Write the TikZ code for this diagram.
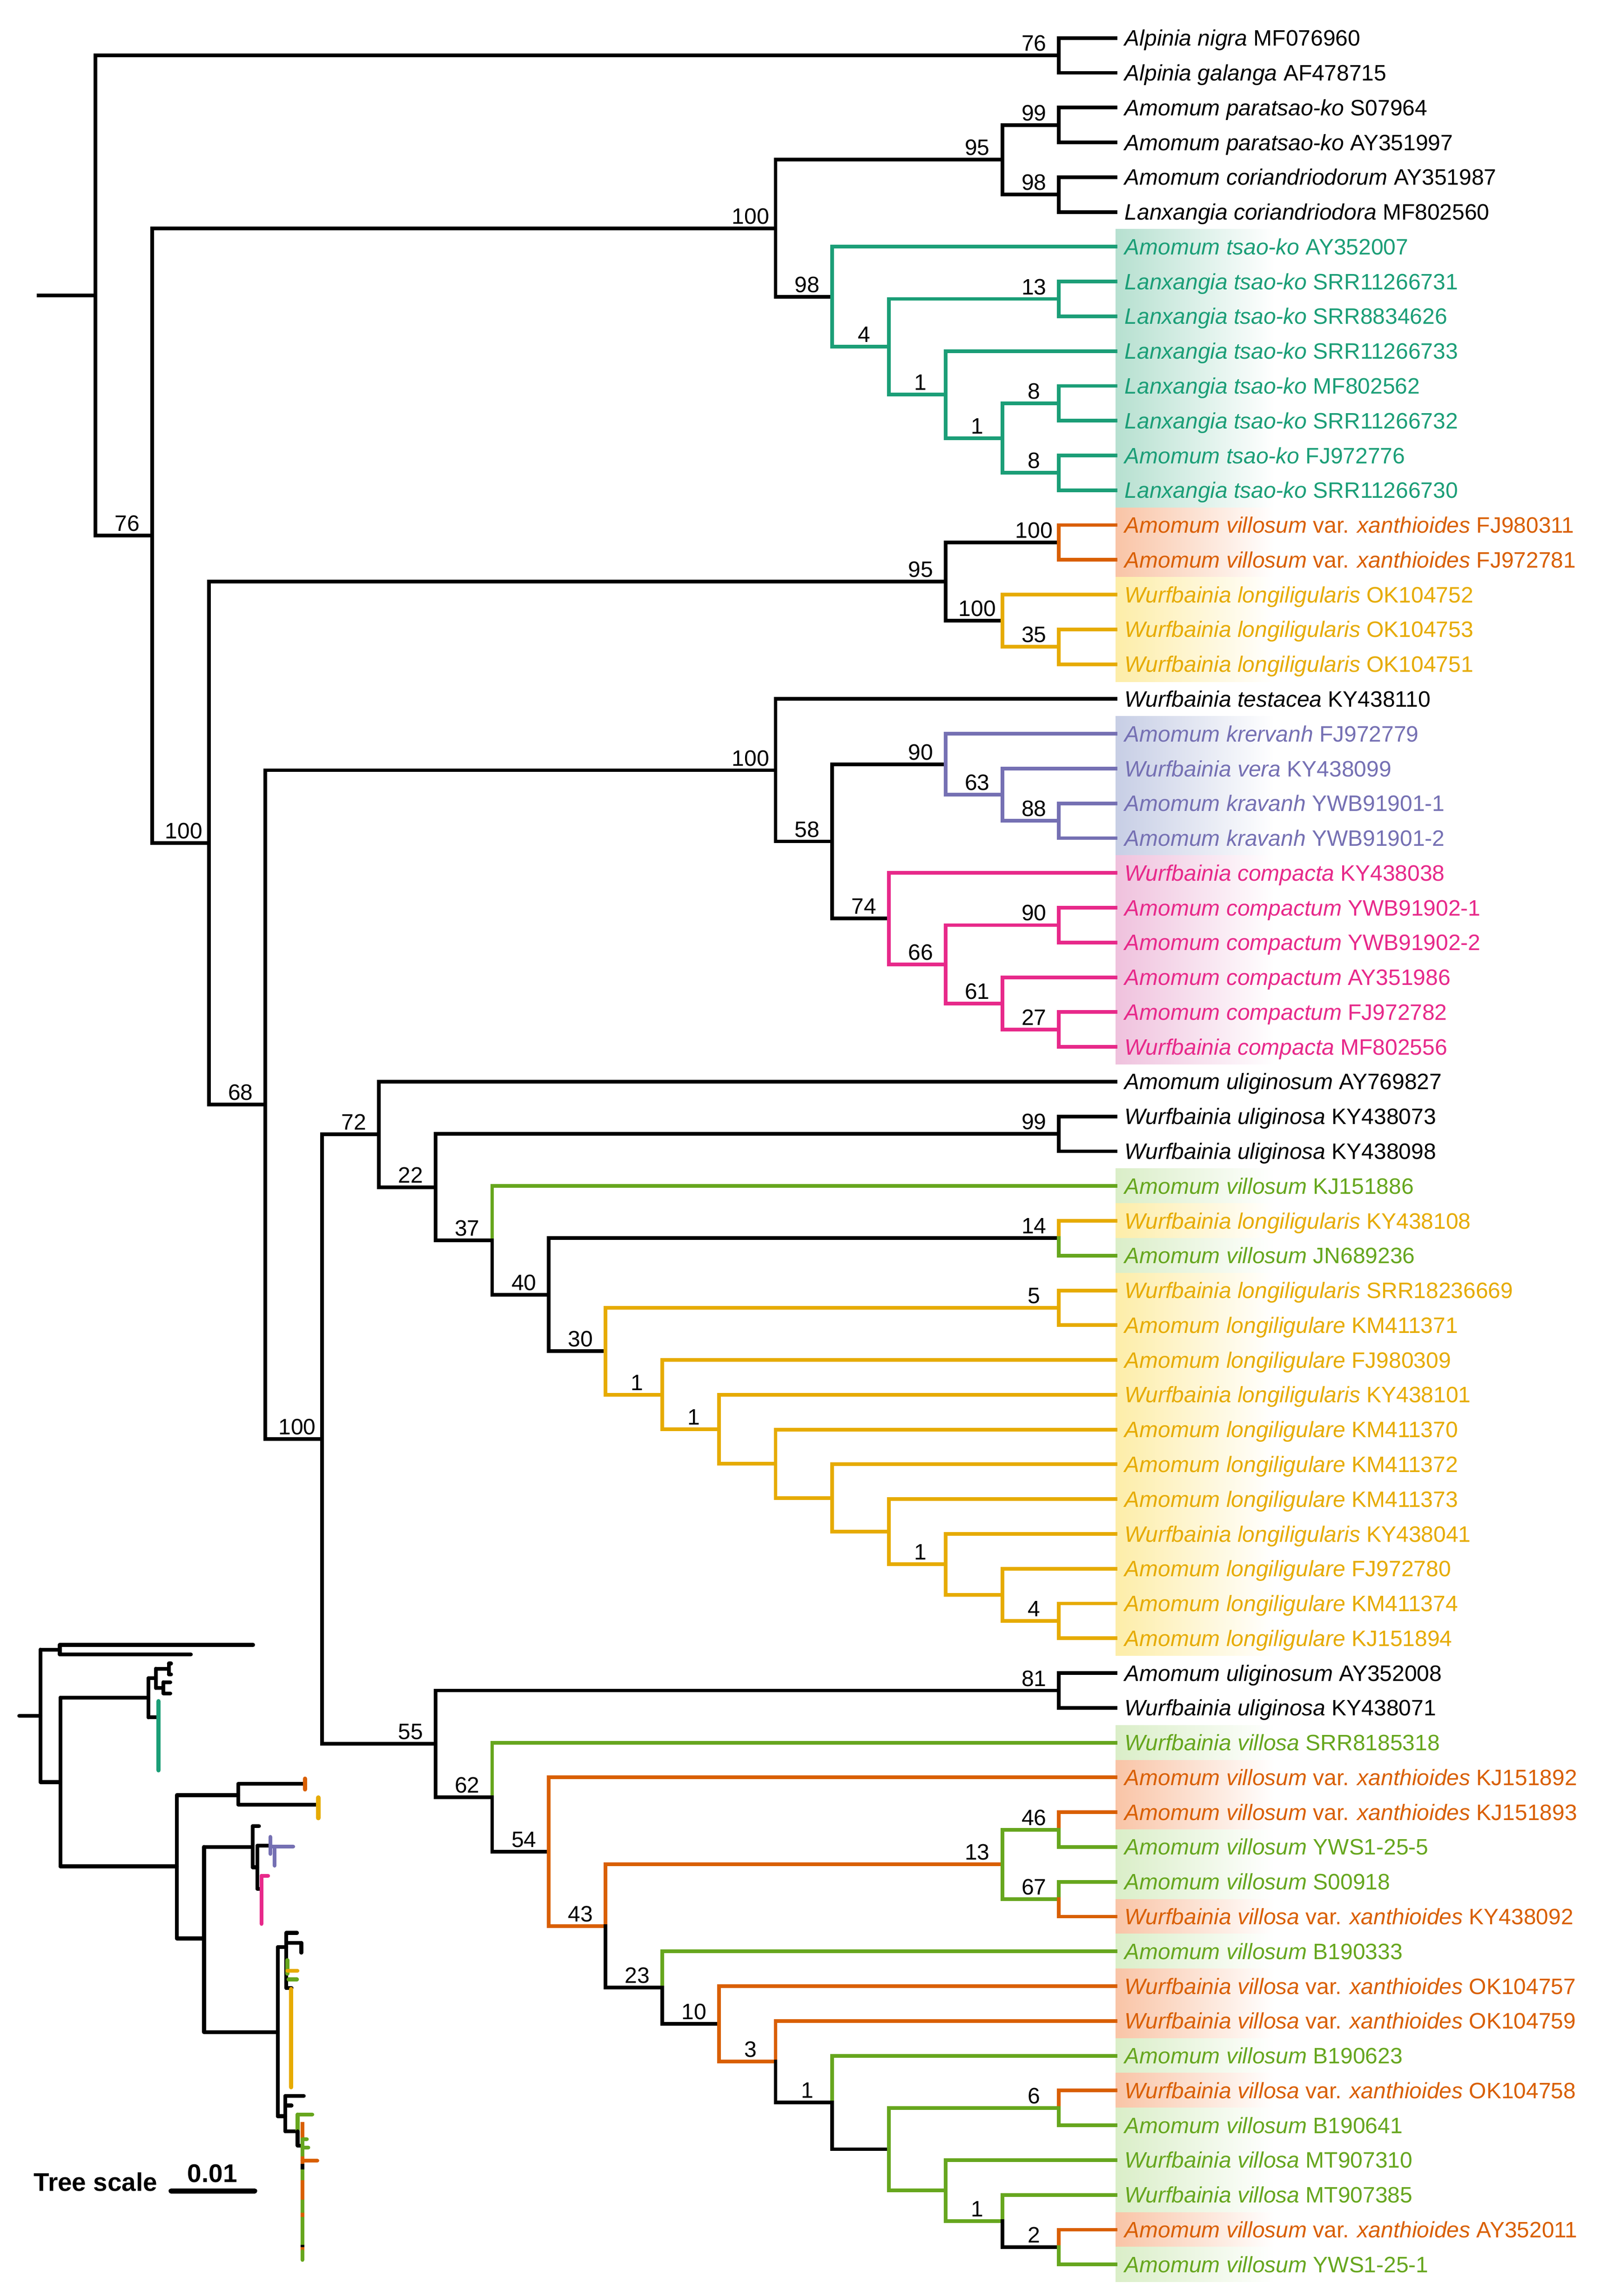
\documentclass[tikz,border=0pt]{standalone}
\usepackage{fontspec}
\setmainfont{Liberation Sans}
\definecolor{cT}{HTML}{1B9E77}
\definecolor{cO}{HTML}{D95F02}
\definecolor{cP}{HTML}{7570B3}
\definecolor{cK}{HTML}{E7298A}
\definecolor{cG}{HTML}{66A61E}
\definecolor{cY}{HTML}{E6AB02}
\definecolor{hT}{RGB}{182,224,208}
\definecolor{hO}{RGB}{249,196,166}
\definecolor{hY}{RGB}{253,237,168}
\definecolor{hP}{RGB}{199,206,229}
\definecolor{hK}{RGB}{239,193,221}
\definecolor{hG}{RGB}{218,238,200}
\pgfmathdeclarefunction{colx}{1}{\pgfmathparse{65+38.6*#1}}
\pgfmathdeclarefunction{rowy}{1}{\pgfmathparse{25.9+23.7*(#1-1)}}
\newcommand{\tnode}[3]{\coordinate (#1) at ({colx(#2)},{rowy(#3)});}
\newcommand{\tedge}[3][black]{\draw[br,#1] (#2) |- (#3);}
\newcommand{\tleaf}[3]{\coordinate (l#1) at ({colx(18)},{rowy(#1)});\node[leaf,text=#2] (t#1) at ({colx(18)+5.8},{rowy(#1)+5.4}) {#3};}
\newcommand{\tboot}[2]{\node[boot,xshift=-8.5pt,yshift=1.5pt] (b#1) at (#1) {#2};}
\newcommand{\thl}[3]{\shade[left color=#3,right color=white] ({colx(18)},{rowy(#1)-11.85}) rectangle (868,{rowy(#2)+11.85});}
\newcommand{\AV}{\textit{Amomum villosum}}
\newcommand{\AVX}{\textit{Amomum villosum} var. \textit{xanthioides}}
\newcommand{\WVX}{\textit{Wurfbainia villosa} var. \textit{xanthioides}}
\newcommand{\AL}{\textit{Amomum longiligulare}}
\newcommand{\WL}{\textit{Wurfbainia longiligularis}}
\newcommand{\LT}{\textit{Lanxangia tsao-ko}}
\begin{document}
\begin{tikzpicture}[x=0.5pt,y=-0.5pt,
  br/.style={line width=1.25pt,line cap=rect},
  leaf/.style={anchor=base west,inner sep=0pt,font=\fontsize{7.6}{9}\selectfont},
  boot/.style={anchor=base,inner sep=0pt,font=\fontsize{7.6}{9}\selectfont},
  ins/.style={line width=1.3pt,line cap=round}]
\fill[white] (0,0) rectangle (1089.4,1564.2);
\useasboundingbox (0,0) rectangle (1089.4,1564.2);
% highlights
\thl{7}{14}{hT}
\thl{15}{16}{hO}
\thl{17}{19}{hY}
\thl{21}{24}{hP}
\thl{25}{30}{hK}
\thl{34}{34}{hG}
\thl{35}{35}{hY}
\thl{36}{36}{hG}
\thl{37}{47}{hY}
\thl{50}{50}{hG}
\thl{51}{52}{hO}
\thl{53}{54}{hG}
\thl{55}{55}{hO}
\thl{56}{56}{hG}
\thl{57}{58}{hO}
\thl{59}{59}{hG}
\thl{60}{60}{hO}
\thl{61}{63}{hG}
\thl{64}{64}{hO}
\thl{65}{65}{hG}
% internal nodes
\tnode{root}{0}{8.4029}
\coordinate (r0) at ({colx(-1)},{rowy(8.4029)});
\tnode{nA}{17}{1.5}
\tnode{n76}{1}{15.3058}
\tnode{n100a}{12}{6.46875}
\tnode{n95a}{16}{4.5}
\tnode{n99a}{17}{3.5}
\tnode{n98a}{17}{5.5}
\tnode{n98b}{13}{8.4375}
\tnode{n4}{14}{9.875}
\tnode{n13a}{17}{8.5}
\tnode{n1a}{15}{11.25}
\tnode{n1b}{16}{12.5}
\tnode{n8a}{17}{11.5}
\tnode{n8b}{17}{13.5}
\tnode{n100d}{2}{24.1429}
\tnode{n95b}{15}{16.625}
\tnode{n100o}{17}{15.5}
\tnode{n100y}{16}{17.75}
\tnode{n35}{17}{18.5}
\tnode{n68}{3}{31.6608}
\tnode{n100b}{12}{22.046875}
\tnode{n58}{13}{24.09375}
\tnode{n90a}{15}{21.875}
\tnode{n63}{16}{22.75}
\tnode{n88}{17}{23.5}
\tnode{n74}{14}{26.3125}
\tnode{n66}{15}{27.625}
\tnode{n90b}{17}{26.5}
\tnode{n61}{16}{28.75}
\tnode{n27}{17}{29.5}
\tnode{n100c}{4}{41.2747}
\tnode{n72}{5}{32.5155}
\tnode{n22}{6}{34.0310}
\tnode{n99b}{17}{32.5}
\tnode{n37}{7}{35.5620}
\tnode{n40}{8}{37.1240}
\tnode{n14}{17}{35.5}
\tnode{n30}{9}{38.7480}
\tnode{n5}{17}{37.5}
\tnode{n1d}{10}{39.9961}
\tnode{n1c}{11}{40.9922}
\tnode{nc}{12}{41.9844}
\tnode{nd}{13}{42.96875}
\tnode{ne}{14}{43.9375}
\tnode{nf}{15}{44.875}
\tnode{ng}{16}{45.75}
\tnode{n4b}{17}{46.5}
\tnode{n55}{6}{50.0339}
\tnode{n81}{17}{48.5}
\tnode{n62}{7}{51.5679}
\tnode{n54}{8}{53.1357}
\tnode{n43}{9}{55.2715}
\tnode{n13b}{16}{53.5}
\tnode{n46}{17}{52.5}
\tnode{n67}{17}{54.5}
\tnode{n23}{10}{57.0430}
\tnode{n10}{11}{58.0859}
\tnode{n3}{12}{59.171875}
\tnode{n1f}{13}{60.34375}
\tnode{nh}{14}{61.6875}
\tnode{n6}{17}{60.5}
\tnode{ni}{15}{62.875}
\tnode{n1e}{16}{63.75}
\tnode{n2}{17}{64.5}
% leaves
\tleaf{1}{black}{\textit{Alpinia nigra} MF076960}
\tleaf{2}{black}{\textit{Alpinia galanga} AF478715}
\tleaf{3}{black}{\textit{Amomum paratsao-ko} S07964}
\tleaf{4}{black}{\textit{Amomum paratsao-ko} AY351997}
\tleaf{5}{black}{\textit{Amomum coriandriodorum} AY351987}
\tleaf{6}{black}{\textit{Lanxangia coriandriodora} MF802560}
\tleaf{7}{cT}{\textit{Amomum tsao-ko} AY352007}
\tleaf{8}{cT}{\LT{} SRR11266731}
\tleaf{9}{cT}{\LT{} SRR8834626}
\tleaf{10}{cT}{\LT{} SRR11266733}
\tleaf{11}{cT}{\LT{} MF802562}
\tleaf{12}{cT}{\LT{} SRR11266732}
\tleaf{13}{cT}{\textit{Amomum tsao-ko} FJ972776}
\tleaf{14}{cT}{\LT{} SRR11266730}
\tleaf{15}{cO}{\AVX{} FJ980311}
\tleaf{16}{cO}{\AVX{} FJ972781}
\tleaf{17}{cY}{\WL{} OK104752}
\tleaf{18}{cY}{\WL{} OK104753}
\tleaf{19}{cY}{\WL{} OK104751}
\tleaf{20}{black}{\textit{Wurfbainia testacea} KY438110}
\tleaf{21}{cP}{\textit{Amomum krervanh} FJ972779}
\tleaf{22}{cP}{\textit{Wurfbainia vera} KY438099}
\tleaf{23}{cP}{\textit{Amomum kravanh} YWB91901-1}
\tleaf{24}{cP}{\textit{Amomum kravanh} YWB91901-2}
\tleaf{25}{cK}{\textit{Wurfbainia compacta} KY438038}
\tleaf{26}{cK}{\textit{Amomum compactum} YWB91902-1}
\tleaf{27}{cK}{\textit{Amomum compactum} YWB91902-2}
\tleaf{28}{cK}{\textit{Amomum compactum} AY351986}
\tleaf{29}{cK}{\textit{Amomum compactum} FJ972782}
\tleaf{30}{cK}{\textit{Wurfbainia compacta} MF802556}
\tleaf{31}{black}{\textit{Amomum uliginosum} AY769827}
\tleaf{32}{black}{\textit{Wurfbainia uliginosa} KY438073}
\tleaf{33}{black}{\textit{Wurfbainia uliginosa} KY438098}
\tleaf{34}{cG}{\AV{} KJ151886}
\tleaf{35}{cY}{\WL{} KY438108}
\tleaf{36}{cG}{\AV{} JN689236}
\tleaf{37}{cY}{\WL{} SRR18236669}
\tleaf{38}{cY}{\AL{} KM411371}
\tleaf{39}{cY}{\AL{} FJ980309}
\tleaf{40}{cY}{\WL{} KY438101}
\tleaf{41}{cY}{\AL{} KM411370}
\tleaf{42}{cY}{\AL{} KM411372}
\tleaf{43}{cY}{\AL{} KM411373}
\tleaf{44}{cY}{\WL{} KY438041}
\tleaf{45}{cY}{\AL{} FJ972780}
\tleaf{46}{cY}{\AL{} KM411374}
\tleaf{47}{cY}{\AL{} KJ151894}
\tleaf{48}{black}{\textit{Amomum uliginosum} AY352008}
\tleaf{49}{black}{\textit{Wurfbainia uliginosa} KY438071}
\tleaf{50}{cG}{\textit{Wurfbainia villosa} SRR8185318}
\tleaf{51}{cO}{\AVX{} KJ151892}
\tleaf{52}{cO}{\AVX{} KJ151893}
\tleaf{53}{cG}{\AV{} YWS1-25-5}
\tleaf{54}{cG}{\AV{} S00918}
\tleaf{55}{cO}{\WVX{} KY438092}
\tleaf{56}{cG}{\AV{} B190333}
\tleaf{57}{cO}{\WVX{} OK104757}
\tleaf{58}{cO}{\WVX{} OK104759}
\tleaf{59}{cG}{\AV{} B190623}
\tleaf{60}{cO}{\WVX{} OK104758}
\tleaf{61}{cG}{\AV{} B190641}
\tleaf{62}{cG}{\textit{Wurfbainia villosa} MT907310}
\tleaf{63}{cG}{\textit{Wurfbainia villosa} MT907385}
\tleaf{64}{cO}{\AVX{} AY352011}
\tleaf{65}{cG}{\AV{} YWS1-25-1}
% edges
\draw[br] (r0) -- (root);
\tedge{root}{nA} \tedge{nA}{l1} \tedge{nA}{l2}
\tedge{root}{n76}
\tedge{n76}{n100a}
\tedge{n100a}{n95a}
\tedge{n95a}{n99a} \tedge{n95a}{n98a}
\tedge{n99a}{l3} \tedge{n99a}{l4} \tedge{n98a}{l5} \tedge{n98a}{l6}
\tedge{n100a}{n98b}
\tedge[cT]{n98b}{l7} \tedge[cT]{n98b}{n4}
\tedge[cT]{n4}{n13a} \tedge[cT]{n13a}{l8} \tedge[cT]{n13a}{l9}
\tedge[cT]{n4}{n1a} \tedge[cT]{n1a}{l10} \tedge[cT]{n1a}{n1b}
\tedge[cT]{n1b}{n8a} \tedge[cT]{n1b}{n8b}
\tedge[cT]{n8a}{l11} \tedge[cT]{n8a}{l12} \tedge[cT]{n8b}{l13} \tedge[cT]{n8b}{l14}
\tedge{n76}{n100d}
\tedge{n100d}{n95b}
\tedge{n95b}{n100o} \tedge[cO]{n100o}{l15} \tedge[cO]{n100o}{l16}
\tedge{n95b}{n100y} \tedge[cY]{n100y}{l17} \tedge[cY]{n100y}{n35} \tedge[cY]{n35}{l18} \tedge[cY]{n35}{l19}
\tedge{n100d}{n68}
\tedge{n68}{n100b}
\tedge{n100b}{l20}
\tedge{n100b}{n58}
\tedge{n58}{n90a}
\tedge[cP]{n90a}{l21} \tedge[cP]{n90a}{n63} \tedge[cP]{n63}{l22} \tedge[cP]{n63}{n88} \tedge[cP]{n88}{l23} \tedge[cP]{n88}{l24}
\tedge{n58}{n74}
\tedge[cK]{n74}{l25} \tedge[cK]{n74}{n66} \tedge[cK]{n66}{n90b} \tedge[cK]{n90b}{l26} \tedge[cK]{n90b}{l27}
\tedge[cK]{n66}{n61} \tedge[cK]{n61}{l28} \tedge[cK]{n61}{n27} \tedge[cK]{n27}{l29} \tedge[cK]{n27}{l30}
\tedge{n68}{n100c}
\tedge{n100c}{n72}
\tedge{n72}{l31} \tedge{n72}{n22}
\tedge{n22}{n99b} \tedge{n99b}{l32} \tedge{n99b}{l33}
\tedge{n22}{n37}
\tedge[cG]{n37}{l34}
\tedge{n37}{n40}
\tedge{n40}{n14} \tedge[cY]{n14}{l35} \tedge[cG]{n14}{l36}
\tedge{n40}{n30}
\tedge[cY]{n30}{n5} \tedge[cY]{n5}{l37} \tedge[cY]{n5}{l38}
\tedge[cY]{n30}{n1d} \tedge[cY]{n1d}{l39} \tedge[cY]{n1d}{n1c} \tedge[cY]{n1c}{l40}
\tedge[cY]{n1c}{nc} \tedge[cY]{nc}{l41} \tedge[cY]{nc}{nd} \tedge[cY]{nd}{l42}
\tedge[cY]{nd}{ne} \tedge[cY]{ne}{l43} \tedge[cY]{ne}{nf} \tedge[cY]{nf}{l44}
\tedge[cY]{nf}{ng} \tedge[cY]{ng}{l45} \tedge[cY]{ng}{n4b} \tedge[cY]{n4b}{l46} \tedge[cY]{n4b}{l47}
\tedge{n100c}{n55}
\tedge{n55}{n81} \tedge{n81}{l48} \tedge{n81}{l49}
\tedge{n55}{n62}
\tedge[cG]{n62}{l50}
\tedge{n62}{n54}
\tedge[cO]{n54}{l51} \tedge[cO]{n54}{n43}
\tedge[cO]{n43}{n13b}
\tedge[cG]{n13b}{n46} \tedge[cO]{n46}{l52} \tedge[cG]{n46}{l53}
\tedge[cG]{n13b}{n67} \tedge[cG]{n67}{l54} \tedge[cO]{n67}{l55}
\tedge{n43}{n23}
\tedge[cG]{n23}{l56}
\tedge{n23}{n10}
\tedge[cO]{n10}{l57} \tedge[cO]{n10}{n3}
\tedge[cO]{n3}{l58} \tedge{n3}{n1f}
\tedge[cG]{n1f}{l59} \tedge{n1f}{nh}
\tedge[cG]{nh}{n6} \tedge[cO]{n6}{l60} \tedge[cG]{n6}{l61}
\tedge[cG]{nh}{ni} \tedge[cG]{ni}{l62} \tedge[cG]{ni}{n1e}
\tedge[cG]{n1e}{l63} \tedge{n1e}{n2}
\tedge[cO]{n2}{l64} \tedge[cG]{n2}{l65}
% bootstrap values
\tboot{nA}{76} \tboot{n99a}{99} \tboot{n98a}{98} \tboot{n95a}{95} \tboot{n100a}{100}
\tboot{n98b}{98} \tboot{n13a}{13} \tboot{n4}{4} \tboot{n1a}{1} \tboot{n1b}{1}
\tboot{n8a}{8} \tboot{n8b}{8} \tboot{n76}{76}
\tboot{n100o}{100} \tboot{n95b}{95} \tboot{n100y}{100} \tboot{n35}{35} \tboot{n100d}{100}
\tboot{n100b}{100} \tboot{n90a}{90} \tboot{n63}{63} \tboot{n88}{88} \tboot{n58}{58}
\tboot{n74}{74} \tboot{n90b}{90} \tboot{n66}{66} \tboot{n61}{61} \tboot{n27}{27}
\tboot{n68}{68} \tboot{n72}{72} \tboot{n99b}{99} \tboot{n22}{22} \tboot{n37}{37}
\tboot{n14}{14} \tboot{n40}{40} \tboot{n5}{5} \tboot{n30}{30} \tboot{n1d}{1} \tboot{n1c}{1}
\tboot{nf}{1} \tboot{n4b}{4} \tboot{n100c}{100} \tboot{n81}{81} \tboot{n55}{55}
\tboot{n62}{62} \tboot{n13b}{13} \tboot{n46}{46} \tboot{n67}{67} \tboot{n54}{54}
\tboot{n43}{43} \tboot{n23}{23} \tboot{n10}{10} \tboot{n3}{3} \tboot{n1f}{1}
\tboot{n6}{6} \tboot{n1e}{1} \tboot{n2}{2}
% inset overview tree
\begin{scope}[ins]
\draw (13.1,1168.9) -- (27.6,1168.9);
\draw (27.6,1123.8) -- (27.6,1214.1);
\draw (27.6,1123.8) -- (40.7,1123.8);
\draw (40.7,1120.6) -- (40.7,1127.1);
\draw (40.7,1120.6) -- (172.4,1120.6);
\draw (40.7,1127.1) -- (130,1127.1);
\draw (27.6,1214.1) -- (41.2,1214.1);
\draw (41.2,1156.5) -- (41.2,1271.5);
\draw (41.2,1156.5) -- (101.1,1156.5);
\draw (101.1,1143.3) -- (101.1,1170);
\draw (101.1,1143.3) -- (106.2,1143.3);
\draw (106.2,1136.8) -- (106.2,1150);
\draw (106.2,1136.8) -- (115,1136.8);
\draw (115,1133.3) -- (115,1140.6);
\draw (115,1133.3) -- (116.5,1133.3);
\draw (115,1140.6) -- (116.5,1140.6);
\draw (106.2,1150) -- (111.3,1150);
\draw (111.3,1146) -- (111.3,1153.6);
\draw (111.3,1146) -- (116,1146);
\draw (111.3,1153.6) -- (116,1153.6);
\draw (101.1,1170) -- (107,1170);
\draw[cT,line width=1.5pt] (108,1159) -- (108,1206);
\draw (41.2,1271.5) -- (120.5,1271.5);
\draw (120.5,1223) -- (120.5,1320.6);
\draw (120.5,1223) -- (162.3,1223);
\draw (162.3,1215.3) -- (162.3,1229.4);
\draw (162.3,1215.3) -- (206.6,1215.3);
\draw[cO,line width=1.5pt] (207.7,1211.8) -- (207.7,1219);
\draw (162.3,1229.4) -- (216.1,1229.4);
\draw[cY,line width=1.5pt] (216.8,1224.6) -- (216.8,1238.6);
\draw (120.5,1320.6) -- (139,1320.6);
\draw (139,1258.2) -- (139,1384.4);
\draw (139,1258.2) -- (172.1,1258.2);
\draw (172.1,1244.1) -- (172.1,1272.1);
\draw (172.1,1244.1) -- (176.4,1244.1);
\draw (172.1,1272.1) -- (175.3,1272.1);
\draw (175.3,1257.4) -- (175.3,1286.8);
\draw (175.3,1257.4) -- (183.5,1257.4);
\draw[cP] (184.1,1251.4) -- (184.1,1263);
\draw[cP] (184.1,1258) -- (199.7,1258);
\draw[cP] (187,1259) -- (187,1271);
\draw (175.3,1286.8) -- (178.1,1286.8);
\draw[cK] (178.1,1277.9) -- (178.1,1310.7);
\draw[cK] (178.1,1277.9) -- (182.6,1277.9);
\draw (139,1384.4) -- (189.2,1384.4);
\draw (189.2,1326.5) -- (189.2,1441.7);
\draw (189.2,1326.5) -- (195,1326.5);
\draw (195,1316.8) -- (195,1354.4);
\draw (195,1316.8) -- (202.3,1316.8);
\draw (195,1323.6) -- (205.2,1323.6);
\draw (205.2,1323.6) -- (205.2,1330.3);
\draw[cG] (195.7,1335.3) -- (195.7,1344.7);
\draw[cY] (195.7,1342.6) -- (202.6,1342.6);
\draw[cG] (196.5,1348.5) -- (202.3,1348.5);
\draw (195,1354.4) -- (198.6,1354.4);
\draw[cY,line width=1.4pt] (198.3,1355) -- (198.3,1422);
\draw (189.2,1441.7) -- (194.3,1441.7);
\draw (194.3,1427.9) -- (194.3,1452);
\draw (194.3,1427.9) -- (206.9,1427.9);
\draw (194.3,1434.4) -- (198.6,1434.4);
\draw (194.3,1452) -- (202.7,1452);
\draw[cG] (202.7,1440.5) -- (202.7,1452);
\draw (202.7,1452) -- (202.7,1461.7);
\draw[cG] (202.7,1440.5) -- (212.7,1440.5);
\draw (202.7,1461.7) -- (205.9,1461.7);
\draw[cO,line cap=butt] (205.9,1445.5) -- (205.9,1457.3);
\draw[cG] (205.9,1457.3) -- (209,1457.3);
\draw[cG,line cap=butt] (205.9,1458) -- (205.9,1469);
\draw[cG] (205.9,1463) -- (210,1463);
\draw[cO,line cap=butt] (205.9,1469) -- (205.9,1474.1);
\draw[cO] (205.9,1472) -- (216.1,1472);
\draw[line cap=butt] (205.9,1474.1) -- (205.9,1477.9);
\draw[cG,line cap=butt] (205.9,1477.9) -- (205.9,1485.2);
\draw[cO,line cap=butt] (205.9,1485.2) -- (205.9,1498.5);
\draw[cG,line cap=butt] (205.9,1498.5) -- (205.9,1507.3);
\draw[cO,line cap=butt] (205.9,1507.3) -- (205.9,1510.2);
\draw[cG,line cap=butt] (205.9,1510.2) -- (205.9,1529.3);
\draw[line cap=butt] (205.9,1529.3) -- (205.9,1530.8);
\draw[cO,line cap=butt] (205.9,1530.8) -- (205.9,1533.7);
\draw[cG] (205.9,1533.7) -- (205.9,1539.6);
\end{scope}
% tree scale
\node[anchor=base west,inner sep=0pt,font=\bfseries\fontsize{8.7}{10}\selectfont] (tslab) at (22.6,1492.6) {Tree scale};
\node[anchor=base,inner sep=0pt,font=\bfseries\fontsize{8.7}{10}\selectfont] (tsval) at (144.6,1486.7) {0.01};
\coordinate (sbA) at (116.5,1492.6);
\coordinate (sbB) at (173.5,1492.6);
\draw[line width=1.7pt,line cap=round] (sbA) -- (sbB);
\end{tikzpicture}
\end{document}
